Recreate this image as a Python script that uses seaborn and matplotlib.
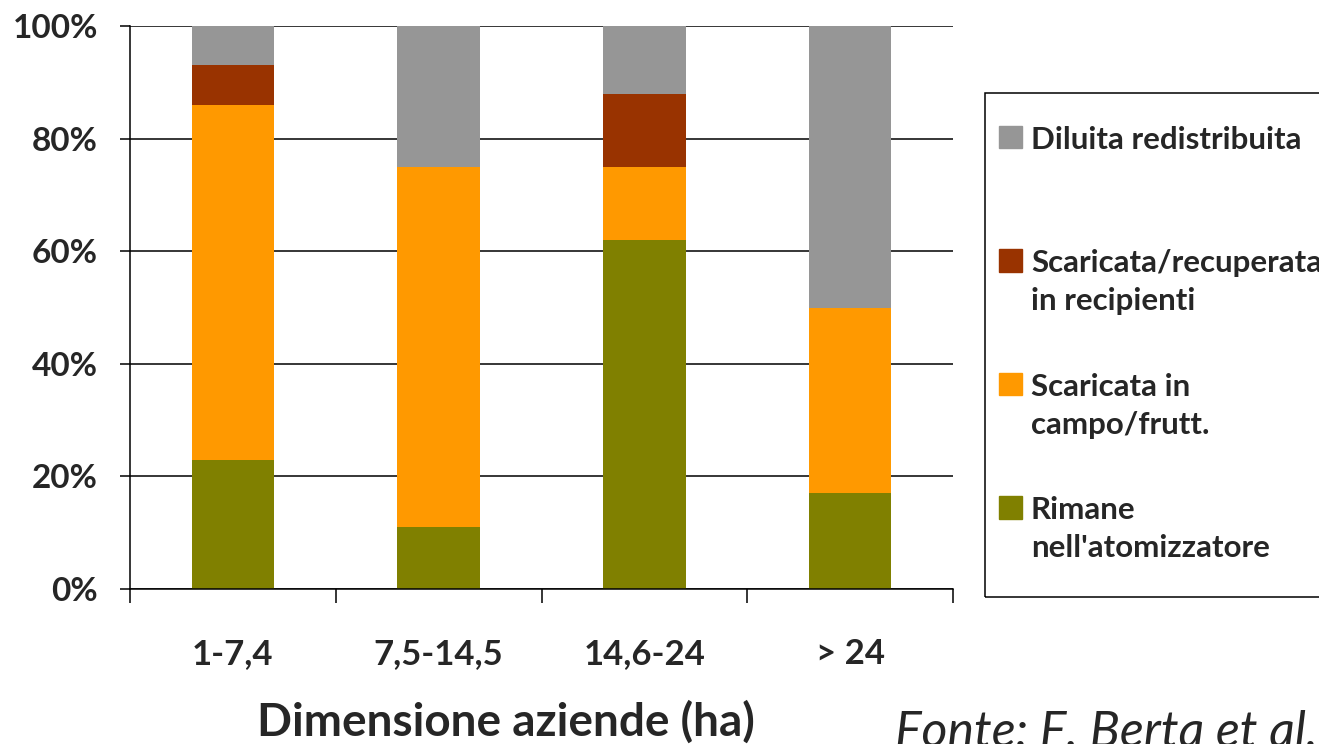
import numpy as np
import pandas as pd
import matplotlib
matplotlib.use("Agg")
import matplotlib.pyplot as plt
import matplotlib.patches as mpatches
from matplotlib.ticker import FuncFormatter
import seaborn as sns

# dati (percentuali per classe di dimensione aziendale)
categorie = ["1-7,4", "7,5-14,5", "14,6-24", "> 24"]
rimane = [23, 11, 62, 17]
campo = [63, 64, 13, 33]
recipienti = [7, 0, 13, 0]
diluita = [7, 25, 12, 50]

serie = ["Rimane\nnell'atomizzatore", "Scaricata in\ncampo/frutt.",
         "Scaricata/recuperata\nin recipienti", "Diluita redistribuita\n"]
colori = ["#808000", "#FF9900", "#993300", "#969696"]

sns.set_style("white")
plt.rcParams["font.family"] = ["Lato", "DejaVu Sans"]
plt.rcParams["font.weight"] = "bold"

W, H = 1319, 744
fig = plt.figure(figsize=(W / 100, H / 100), dpi=100)
ax = fig.add_axes([130 / W, 1 - 589 / H, (953 - 130) / W, (589 - 26) / H])

df = pd.DataFrame({"categoria": categorie, "rimane": rimane, "campo": campo,
                   "recipienti": recipienti, "diluita": diluita})
cum = df[["rimane", "campo", "recipienti", "diluita"]].cumsum(axis=1)

# barre impilate: prima la piu' alta, poi le altre sopra
for i, col in reversed(list(enumerate(cum.columns))):
    sns.barplot(x=df["categoria"], y=cum[col], color=colori[i], width=0.4,
                saturation=1, edgecolor="none", ax=ax)

ax.set_xlim(-0.5, 3.5)
ax.set_ylim(0, 100)
ax.set_yticks(range(0, 101, 20))
ax.yaxis.set_major_formatter(FuncFormatter(lambda v, _: f"{v:.0f}%"))
ax.set_xlabel("")
ax.set_ylabel("")
ax.yaxis.grid(True, color="black", lw=1.1)
ax.set_axisbelow(True)

for s in ["top", "right"]:
    ax.spines[s].set_visible(False)
for s in ["left", "bottom"]:
    ax.spines[s].set_color("black")
    ax.spines[s].set_linewidth(1.1)

ax.set_xticks([-0.5, 0.5, 1.5, 2.5, 3.5], minor=True)
ax.tick_params(axis="y", left=True, direction="out", length=7, width=1.1,
               color="black", pad=16, labelsize=24)
ax.tick_params(axis="x", which="major", bottom=True, length=0, pad=35, labelsize=25)
ax.tick_params(axis="x", which="minor", bottom=True, direction="out", length=10,
               width=1.1, color="black")

# legenda
handles = [mpatches.Patch(color=colori[i], label=serie[i]) for i in [3, 2, 1, 0]]
leg = fig.legend(handles=handles, loc="upper left",
                 bbox_to_anchor=(999 / W, 1 - 126 / H), bbox_transform=fig.transFigure,
                 frameon=False, fontsize=22.5, handlelength=0.72, handleheight=0.72,
                 handletextpad=0.3, labelspacing=1.85, borderpad=0, borderaxespad=0)
for t in leg.get_texts():
    t.set_linespacing(1.42)
for col in leg._legend_handle_box.get_children():
    for item in col.get_children():
        item.align = "top"
fig.add_artist(mpatches.Rectangle((985 / W, 1 - 597 / H), 400 / W, (597 - 93) / H,
                                  transform=fig.transFigure, fill=False,
                                  edgecolor="black", lw=1.1, clip_on=False))

fig.text(506 / W, 1 - 736 / H, "Dimensione aziende (ha)", ha="center",
         va="baseline", fontsize=33, fontweight="bold")
fig.text(895 / W, -0.004, "Fonte: F. Berta et al.", ha="left", va="baseline",
         fontsize=36, fontweight="normal", style="italic")

fig.savefig("out.png", dpi=100)
